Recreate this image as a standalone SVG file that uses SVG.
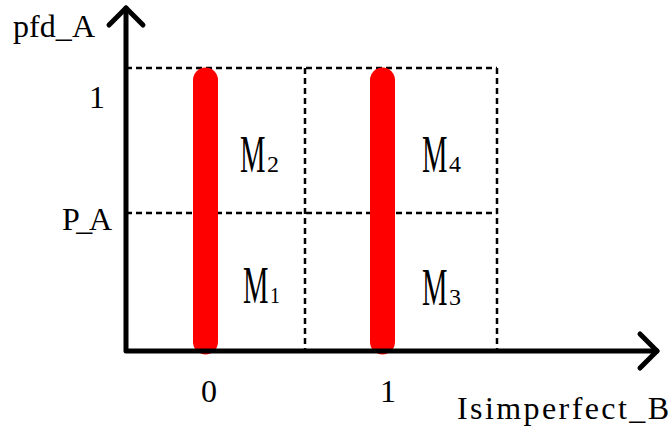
<svg xmlns="http://www.w3.org/2000/svg" width="672" height="427" viewBox="0 0 672 427">
<defs>
<style>
.ax{stroke:#000;stroke-width:5;fill:none;stroke-linecap:round;stroke-linejoin:round}
.dash{stroke:#000;stroke-width:2.5;stroke-dasharray:6 4;fill:none}
.bar{stroke:#ff0000;stroke-width:25;stroke-linecap:round}
.t{font-family:"Liberation Serif",serif;font-size:32px;fill:#000}
.m{font-family:"Liberation Serif",serif;font-size:52px;fill:#000}
.s{font-family:"Liberation Serif",serif;font-size:24px;fill:#000}
</style>
</defs>
<g id="grid">
<line class="dash" x1="126" y1="68" x2="497" y2="68"/>
<line class="dash" x1="126" y1="213" x2="497" y2="213"/>
<line class="dash" x1="305" y1="68" x2="305" y2="350"/>
<line class="dash" x1="497" y1="68" x2="497" y2="350"/>
</g>
<g id="bars">
<line class="bar" x1="205.5" y1="80" x2="205.5" y2="342"/>
<line class="bar" x1="382.5" y1="80" x2="382.5" y2="342"/>
</g>
<g id="axes">
<polyline class="ax" points="126,8 126,351 657,351"/>
<polyline class="ax" points="109,25 126,8 143,25"/>
<polyline class="ax" points="640,334 657,351 640,368"/>
</g>
<g id="labels">
<text class="t" x="13" y="37" textLength="82" lengthAdjust="spacing">pfd_A</text>
<text class="t" x="89" y="108">1</text>
<text class="t" x="62" y="230" textLength="50" lengthAdjust="spacing">P_A</text>
<text class="t" x="201" y="402">0</text>
<text class="t" x="380" y="402">1</text>
<text class="t" x="457" y="419" textLength="212" lengthAdjust="spacing">Isimperfect_B</text>
</g>
<g id="M2"><text class="m" transform="translate(240,172) scale(0.55,1)">M</text><text class="s" x="267" y="172" textLength="12" lengthAdjust="spacingAndGlyphs">2</text></g>
<g id="M4"><text class="m" transform="translate(422,172) scale(0.55,1)">M</text><text class="s" x="449" y="172" textLength="12" lengthAdjust="spacingAndGlyphs">4</text></g>
<g id="M1"><text class="m" transform="translate(243,303) scale(0.55,1)">M</text><text class="s" x="270" y="303" textLength="10" lengthAdjust="spacingAndGlyphs">1</text></g>
<g id="M3"><text class="m" transform="translate(422,305) scale(0.55,1)">M</text><text class="s" x="449" y="305" textLength="12" lengthAdjust="spacingAndGlyphs">3</text></g>
</svg>
